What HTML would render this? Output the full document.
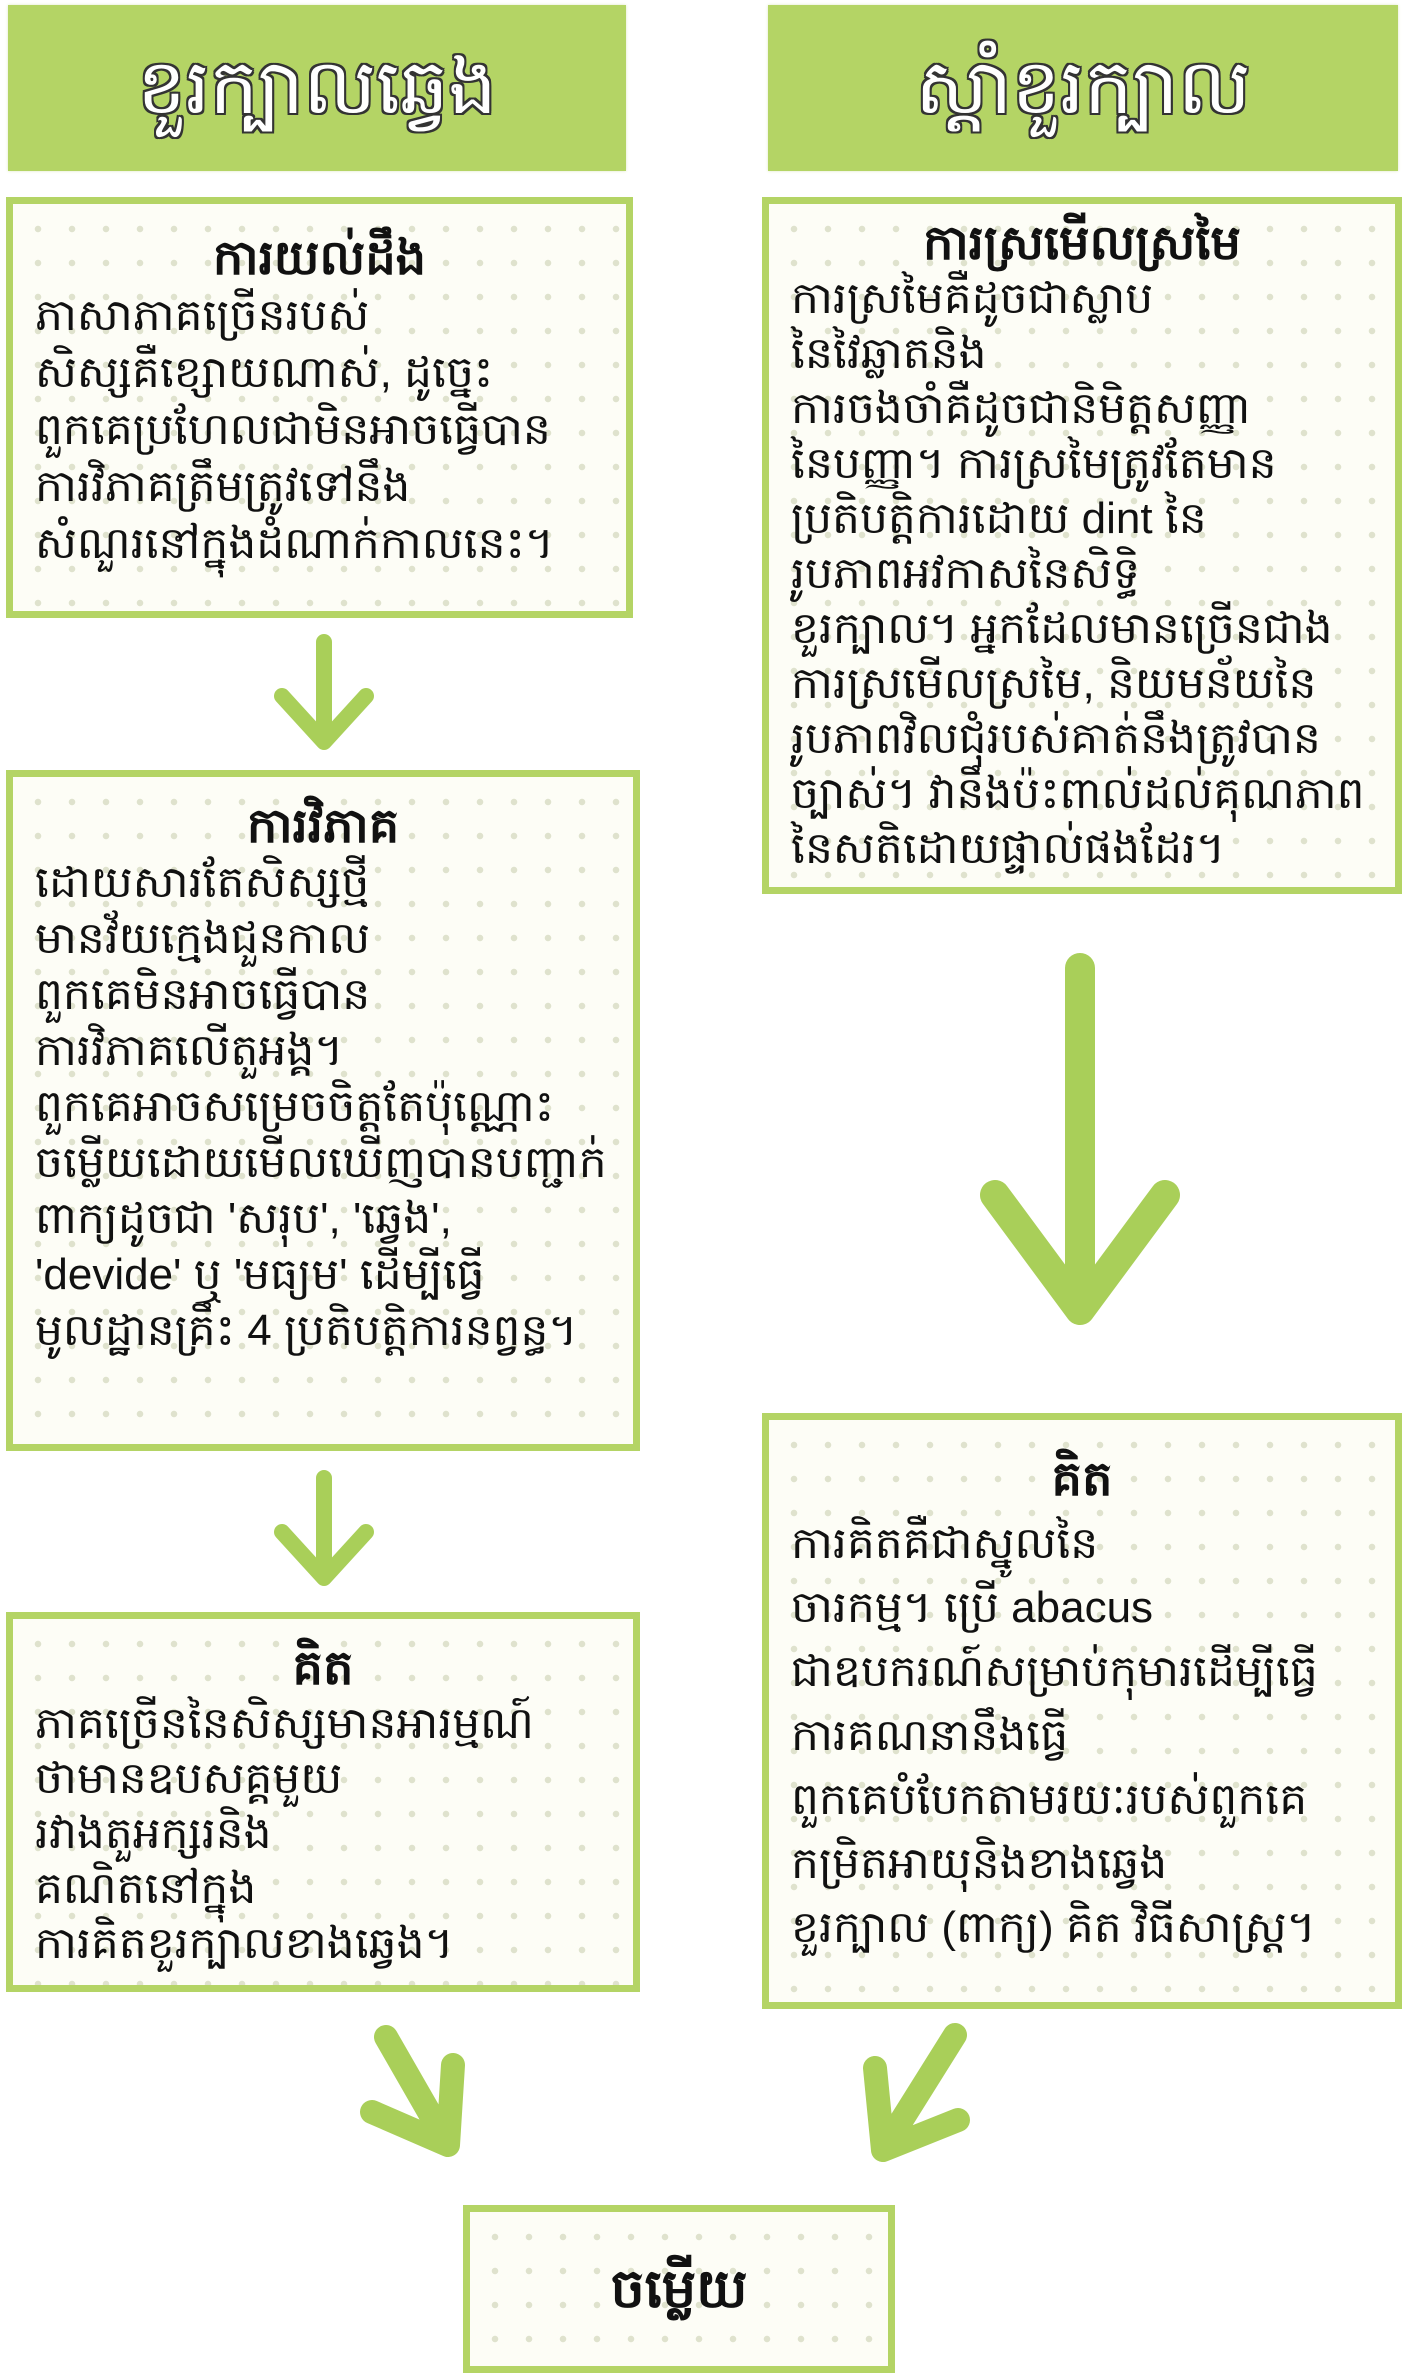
<!DOCTYPE html>
<html><head><meta charset="utf-8">
<style>
body{margin:0;width:1404px;height:2376px;background:#fff;position:relative;overflow:hidden;font-family:"Liberation Sans","Noto Sans CJK SC",sans-serif;}
.hd{position:absolute;background:#b4d465;color:#fff;font-size:76px;text-align:center;box-shadow:0 0 3px #dfe9c4;
text-shadow:-2px -2px 0 #333,2px -2px 0 #333,-2px 2px 0 #333,2px 2px 0 #333,0 2px 0 #333,0 -2px 0 #333,2px 0 0 #333,-2px 0 0 #333;}
.bx{position:absolute;box-sizing:border-box;border:7px solid #b4d465;background-color:#fdfdf6;
background-image:radial-gradient(circle,#dfe2cd 3px,transparent 3.5px);background-size:34px 34px;background-position:8px 8px;color:#111;font-size:44px;font-weight:300;}
.bx .t{font-weight:bold;text-align:center;font-size:48px;}
.bx p{margin:0;padding-left:22px;white-space:nowrap;}
svg{position:absolute;left:0;top:0}
</style></head><body>
<div class="hd" style="left:8px;top:5px;width:618px;height:166px;line-height:166px">ខួរក្បាលឆ្វេង</div>
<div class="hd" style="left:768px;top:5px;width:630px;height:166px;line-height:166px">ស្តាំខួរក្បាល</div>

<div class="bx" style="left:6px;top:197px;width:627px;height:421px;padding-top:26px;line-height:57px">
<div class="t">ការយល់ដឹង</div>
<p>ភាសាភាគច្រើនរបស់</p><p>សិស្សគឺខ្សោយណាស់, ដូច្នេះ</p><p>ពួកគេប្រហែលជាមិនអាចធ្វើបាន</p><p>ការវិភាគត្រឹមត្រូវទៅនឹង</p><p>សំណួរនៅក្នុងដំណាក់កាលនេះ។</p>
</div>

<div class="bx" style="left:6px;top:770px;width:634px;height:681px;padding-top:22px;line-height:56px">
<div class="t">ការវិភាគ</div>
<p>ដោយសារតែសិស្សថ្មី</p><p>មានវ័យក្មេងជួនកាល</p><p>ពួកគេមិនអាចធ្វើបាន</p><p>ការវិភាគលើតួអង្គ។</p><p>ពួកគេអាចសម្រេចចិត្តតែប៉ុណ្ណោះ</p><p>ចម្លើយដោយមើលឃើញបានបញ្ជាក់</p><p>ពាក្យដូចជា 'សរុប', 'ឆ្វេង',</p><p>'devide' ឬ 'មធ្យម' ដើម្បីធ្វើ</p><p>មូលដ្ឋានគ្រឹះ 4 ប្រតិបត្តិការនព្វន្ធ។</p>
</div>

<div class="bx" style="left:6px;top:1612px;width:634px;height:380px;padding-top:22px;line-height:55px">
<div class="t">គិត</div>
<p>ភាគច្រើននៃសិស្សមានអារម្មណ៍</p><p>ថាមានឧបសគ្គមួយ</p><p>រវាងតួអក្សរនិង</p><p>គណិតនៅក្នុង</p><p>ការគិតខួរក្បាលខាងឆ្វេង។</p>
</div>

<div class="bx" style="left:762px;top:197px;width:640px;height:697px;padding-top:12px;line-height:55px">
<div class="t">ការស្រមើលស្រមៃ</div>
<p>ការស្រមៃគឺដូចជាស្លាប</p><p>នៃវៃឆ្លាតនិង</p><p>ការចងចាំគឺដូចជានិមិត្តសញ្ញា</p><p>នៃបញ្ញា។ ការស្រមៃត្រូវតែមាន</p><p>ប្រតិបត្តិការដោយ dint នៃ</p><p>រូបភាពអវកាសនៃសិទ្ធិ</p><p>ខួរក្បាល។ អ្នកដែលមានច្រើនជាង</p><p>ការស្រមើលស្រមៃ, និយមន័យនៃ</p><p>រូបភាពវិលជុំរបស់គាត់នឹងត្រូវបាន</p><p>ច្បាស់។ វានឹងប៉ះពាល់ដល់គុណភាព</p><p>នៃសតិដោយផ្ទាល់ផងដែរ។</p>
</div>

<div class="bx" style="left:762px;top:1413px;width:640px;height:596px;padding-top:28px;line-height:64px">
<div class="t">គិត</div>
<p>ការគិតគឺជាស្នូលនៃ</p><p>ចារកម្ម។ ប្រើ abacus</p><p>ជាឧបករណ៍សម្រាប់កុមារដើម្បីធ្វើ</p><p>ការគណនានឹងធ្វើ</p><p>ពួកគេបំបែកតាមរយៈរបស់ពួកគេ</p><p>កម្រិតអាយុនិងខាងឆ្វេង</p><p>ខួរក្បាល (ពាក្យ) គិត វិធីសាស្ត្រ។</p>
</div>

<div class="bx" style="left:463px;top:2205px;width:432px;height:168px;line-height:154px">
<div class="t" style="font-size:54px">ចម្លើយ</div>
</div>

<svg width="1404" height="2376">
<g stroke="#a9cf59" stroke-linecap="round" stroke-linejoin="round" fill="none">
<path d="M324 642 V742 M282 696 L324 742 L366 696" stroke-width="16"/>
<path d="M324 1478 V1578 M282 1532 L324 1578 L366 1532" stroke-width="16"/>
<path d="M1080 968 V1310 M995 1195 L1080 1310 L1165 1195" stroke-width="30"/>
<path d="M386 2037 L448 2145 M372 2112 L448 2145 L453 2065" stroke-width="24"/>
<path d="M955 2035 L883 2150 M875 2068 L883 2150 L958 2120" stroke-width="24"/>
</g>
</svg>
</body></html>
